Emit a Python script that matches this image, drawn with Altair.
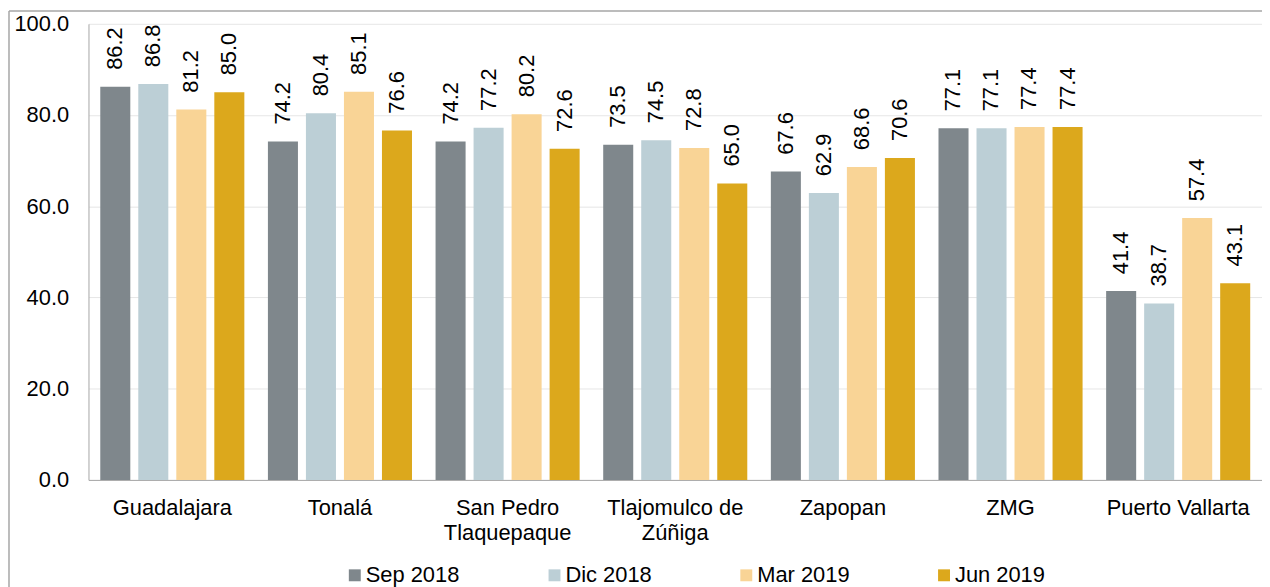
import altair as alt
import pandas as pd

municipios = ["Guadalajara", "Tonalá", "San Pedro Tlaquepaque", "Tlajomulco de Zúñiga",
              "Zapopan", "ZMG", "Puerto Vallarta"]
periodos = ["Sep 2018", "Dic 2018", "Mar 2019", "Jun 2019"]
sep_2018 = [86.2, 74.2, 74.2, 73.5, 67.6, 77.1, 41.4]
dic_2018 = [86.8, 80.4, 77.2, 74.5, 62.9, 77.1, 38.7]
mar_2019 = [81.2, 85.1, 80.2, 72.8, 68.6, 77.4, 57.4]
jun_2019 = [85.0, 76.6, 72.6, 65.0, 70.6, 77.4, 43.1]
colores = ["#7f878c", "#bccfd6", "#f9d496", "#dca81c"]
y_ticks = [0, 20, 40, 60, 80, 100]
etiquetas = {
    "San Pedro Tlaquepaque": ["San Pedro", "Tlaquepaque"],
    "Tlajomulco de Zúñiga": ["Tlajomulco de", "Zúñiga"],
}

series = [sep_2018, dic_2018, mar_2019, jun_2019]
rows = []
for p, vals in zip(periodos, series):
    for m, v in zip(municipios, vals):
        rows.append({"municipio": m, "periodo": p, "valor": v})
df = pd.DataFrame(rows)

expr = "datum.value"
for k, lines in etiquetas.items():
    arr = "[" + ",".join("'" + s + "'" for s in lines) + "]"
    expr = f"datum.value == '{k}' ? {arr} : ({expr})"

FONT = "Liberation Sans"
FS = 22
W, H = 1181, 459

x_enc = alt.X("municipio:N", sort=municipios, title=None,
              scale=alt.Scale(paddingInner=0, paddingOuter=0),
              axis=alt.Axis(labelAngle=0, ticks=False, tickSize=0, grid=False,
                            domainColor="#a6a6a6", labelPadding=18,
                            labelLineHeight=25, labelExpr=expr, labelLimit=400))
xo_enc = alt.XOffset("periodo:N", sort=periodos,
                     scale=alt.Scale(paddingInner=0.21, paddingOuter=0.31))
y_enc = alt.Y("valor:Q", title=None,
              scale=alt.Scale(domain=[0, 100], nice=False),
              axis=alt.Axis(values=y_ticks, format=".1f", ticks=False, tickSize=0,
                            domainColor="#a6a6a6", gridColor="#e6e6e6",
                            labelPadding=20))

base = alt.Chart(df)
bars = base.mark_bar().encode(
    x=x_enc, xOffset=xo_enc, y=y_enc,
    color=alt.Color("periodo:N", sort=periodos,
                    scale=alt.Scale(domain=periodos, range=colores),
                    legend=alt.Legend(title=None, orient="none", legendX=257, legendY=544,
                                      direction="horizontal", columns=4, columnPadding=84,
                                      symbolType="square", symbolSize=144,
                                      symbolStrokeWidth=0, labelFont=FONT,
                                      labelFontSize=FS, labelColor="black",
                                      labelOffset=0, padding=0)),
)
labels = base.mark_text(angle=270, align="left", baseline="middle", dx=17,
                        font=FONT, fontSize=FS, color="black").encode(
    x=x_enc, xOffset=xo_enc, y=y_enc,
    text=alt.Text("valor:Q", format=".1f"),
)

frame_src = alt.Data(values=[{"k": 1}])
frame_left = alt.Chart(frame_src).mark_rule(color="#a6a6a6", strokeWidth=1.5).encode(
    x=alt.value(-80), y=alt.value(-13), y2=alt.value(640))
frame_top = alt.Chart(frame_src).mark_rule(color="#a6a6a6", strokeWidth=1.5).encode(
    x=alt.value(-80), x2=alt.value(1200), y=alt.value(-13))

chart = alt.layer(bars, labels, frame_left, frame_top).properties(
    width=W, height=H,
    padding={"left": 81, "top": 14, "right": 0, "bottom": 130},
    autosize=alt.AutoSizeParams(type="none"),
).configure_view(stroke=None).configure_axis(
    labelFont=FONT, labelFontSize=FS, labelColor="black"
)

chart.save("out.html", embed_options={"renderer": "svg", "actions": False})
